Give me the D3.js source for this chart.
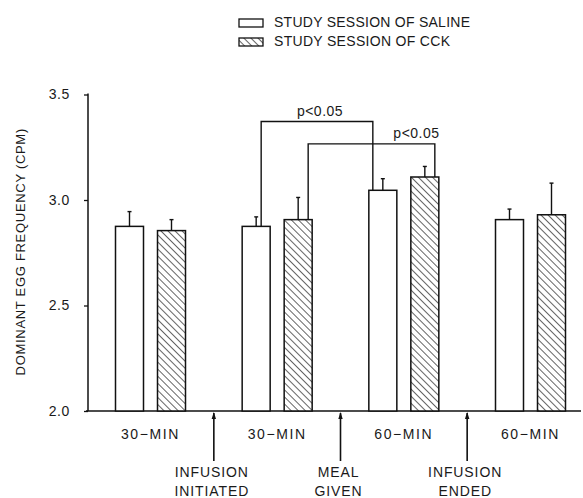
<!DOCTYPE html>
<html><head><meta charset="utf-8">
<script src="https://cdn.jsdelivr.net/npm/d3@7"></script>
<style>
html,body{margin:0;padding:0;background:#fff;}
svg{display:block;}
text{font-family:"Liberation Sans",Arial,sans-serif;fill:#1a1a1a;}
</style></head>
<body>
<svg id="chart" width="583" height="498"></svg>
<script>
// ---- data ----
const groups = ["30\u2212MIN", "30\u2212MIN", "60\u2212MIN", "60\u2212MIN"];
const seriesNames = ["STUDY SESSION OF SALINE", "STUDY SESSION OF CCK"];
const saline = [2.875, 2.875, 3.046, 2.907];
const salineErr = [0.07, 0.045, 0.055, 0.05];
const cck = [2.855, 2.907, 3.109, 2.93];
const cckErr = [0.052, 0.105, 0.05, 0.15];
const events = [["INFUSION", "INITIATED"], ["MEAL", "GIVEN"], ["INFUSION", "ENDED"]];
const yTicks = [2.0, 2.5, 3.0, 3.5];
const yLabel = "DOMINANT EGG FREQUENCY (CPM)";
// significance brackets: [fromGroup, fromSeries, toGroup, toSeries, level]
const brackets = [[1, 0, 2, 0, 3.372], [1, 1, 2, 1, 3.266]];
const sigLabels = ["p<0.05", "p<0.05"];

// ---- drawing ----
const svg = d3.select("#chart");
const ink = "#111";
const y = d3.scaleLinear().domain([2.0, 3.5]).range([411, 94.5]);
const x = d3.scalePoint().domain(d3.range(groups.length)).range([150.5, 530.5]);
const step = x.step();
const xs = d3.scaleBand().domain([0, 1]).range([-35, 35]).paddingInner(1/3);
const bw = xs.bandwidth();

const defs = svg.append("defs");
const pat = defs.append("pattern").attr("id", "hatch").attr("patternUnits", "userSpaceOnUse")
  .attr("width", 5).attr("height", 5).attr("patternTransform", "rotate(-45)");
pat.append("rect").attr("width", 5).attr("height", 5).attr("fill", "#fff");
pat.append("line").attr("x1", 0).attr("y1", 0).attr("x2", 0).attr("y2", 5)
  .attr("stroke", ink).attr("stroke-width", 1.3);

// y axis
const yAxis = d3.axisLeft(y).tickValues(yTicks).tickFormat(d3.format(".1f")).tickSize(4).tickPadding(14);
const gy = svg.append("g").attr("transform", "translate(88,0)").call(yAxis);
gy.select(".domain").remove();
gy.selectAll(".tick line").attr("stroke", ink).attr("stroke-width", 1.3);
gy.selectAll(".tick text").attr("font-size", 14).attr("fill", "#1a1a1a").attr("letter-spacing", 0.6)
  .attr("font-family", "Liberation Sans, Arial, sans-serif");
svg.append("line").attr("x1", 88).attr("x2", 88).attr("y1", y(3.5) - 1).attr("y2", y(2.0))
  .attr("stroke", ink).attr("stroke-width", 1.5);
// baseline
svg.append("line").attr("x1", 86).attr("x2", 581).attr("y1", y(2.0)).attr("y2", y(2.0))
  .attr("stroke", ink).attr("stroke-width", 1.5);

// y label
svg.append("text").attr("transform", `translate(25,${(y(2.0)+y(3.5))/2 - 1}) rotate(-90)`)
  .attr("text-anchor", "middle").attr("font-size", 13).attr("letter-spacing", 0.7)
  .text(yLabel);

// bars
const data = [];
groups.forEach((g, i) => {
  data.push({g: i, s: 0, v: saline[i], e: salineErr[i]});
  data.push({g: i, s: 1, v: cck[i], e: cckErr[i]});
});
const bx = d => x(d.g) + xs(d.s);
svg.append("g").selectAll("rect").data(data).join("rect")
  .attr("x", bx).attr("width", bw)
  .attr("y", d => y(d.v)).attr("height", d => y(2.0) - y(d.v))
  .attr("fill", d => d.s ? "url(#hatch)" : "#fff")
  .attr("stroke", ink).attr("stroke-width", 1.5);
// error bars
const eg = svg.append("g").attr("stroke", ink).attr("stroke-width", 1.4);
data.forEach(d => {
  const cx = bx(d) + bw / 2;
  eg.append("line").attr("x1", cx).attr("x2", cx).attr("y1", y(d.v)).attr("y2", y(d.v + d.e));
  eg.append("line").attr("x1", cx - 2).attr("x2", cx + 2).attr("y1", y(d.v + d.e)).attr("y2", y(d.v + d.e));
});

// group labels
svg.append("g").selectAll("text").data(groups).join("text")
  .attr("x", (d, i) => x(i)).attr("y", 439).attr("text-anchor", "middle")
  .attr("font-size", 14).attr("letter-spacing", 1.6).text(d => d);

// event markers
events.forEach((ev, i) => {
  const mx = x(i) + step / 2;
  svg.append("line").attr("x1", mx).attr("x2", mx).attr("y1", y(2.0) + 2).attr("y2", 461)
    .attr("stroke", ink).attr("stroke-width", 1.6);
  svg.append("path").attr("d", `M${mx},${y(2.0) + 1}l-2.2,7h4.4z`).attr("fill", ink);
  ev.forEach((t, k) => {
    svg.append("text").attr("x", mx - 2).attr("y", 477 + k * 19).attr("text-anchor", "middle")
      .attr("font-size", 14).attr("letter-spacing", 0.9).text(t);
  });
});

// significance brackets
const bg = svg.append("g").attr("fill", "none").attr("stroke", ink).attr("stroke-width", 1.4);
const legX = (g, s, side) => {
  const left = x(g) + xs(s);
  return side === "in" ? left + bw - 4 : left + 4;
};
brackets.forEach((b, k) => {
  const [g1, s1, g2, s2, lvl] = b;
  const v1 = s1 ? cck[g1] : saline[g1];
  const v2 = s2 ? cck[g2] : saline[g2];
  const xa = k === 0 ? x(g1) + xs(s1) + bw / 2 + 5 : legX(g1, s1, "in");
  const xb = k === 0 ? legX(g2, s2, "out") : legX(g2, s2, "in");
  bg.append("path").attr("d", `M${xa},${y(v1)}V${y(lvl)}H${xb}V${y(v2)}`);
  const lx = k === 0 ? (xa + xb) / 2 + 3 : xa + (xb - xa) * 0.855;
  svg.append("text").attr("x", lx).attr("y", y(lvl) - 6).attr("text-anchor", "middle")
    .attr("font-size", 14).attr("letter-spacing", 0.5).text(sigLabels[k]);
});

// legend
const lg = svg.append("g");
seriesNames.forEach((n, i) => {
  const yy = 19 + i * 19;
  lg.append("rect").attr("x", 239).attr("y", yy).attr("width", 24).attr("height", 8)
    .attr("fill", i ? "url(#hatch)" : "#fff").attr("stroke", ink).attr("stroke-width", 1.3);
  lg.append("text").attr("x", 274).attr("y", yy + 8).attr("font-size", 14)
    .attr("textLength", i ? 176 : 196).attr("lengthAdjust", "spacing").text(n);
});
</script>
</body></html>
